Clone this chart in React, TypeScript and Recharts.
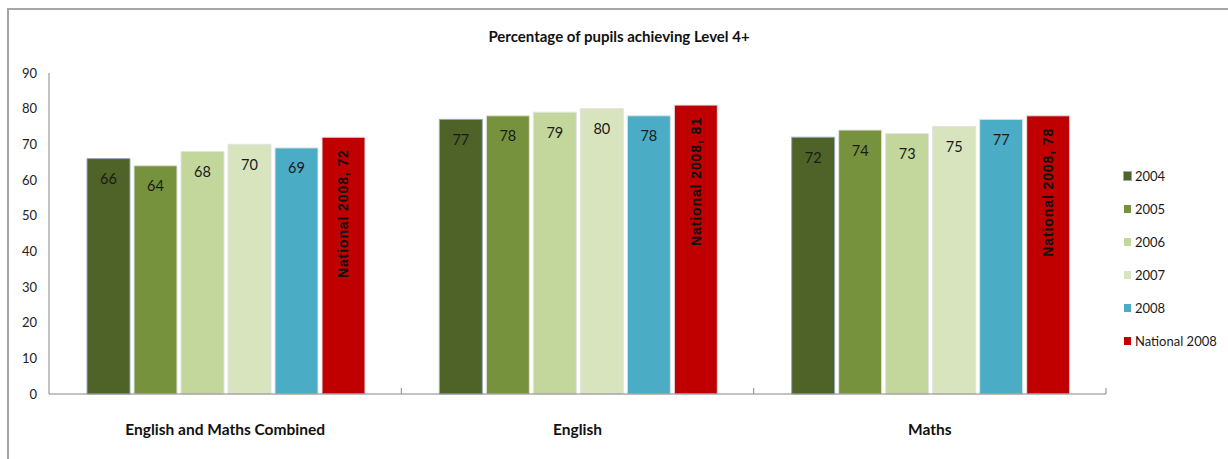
import * as Recharts from "recharts";
import { BarChart, Bar, XAxis, YAxis, Legend, LabelList, Customized } from "recharts";

const categories = ["English and Maths Combined", "English", "Maths"];
const y2004 = [66, 77, 72];
const y2005 = [64, 78, 74];
const y2006 = [68, 79, 73];
const y2007 = [70, 80, 75];
const y2008 = [69, 78, 77];
const national2008 = [72, 81, 78];

const seriesNames = ["2004", "2005", "2006", "2007", "2008", "National 2008"];
const seriesValues = [y2004, y2005, y2006, y2007, y2008, national2008];
const seriesColors = ["#4F6228", "#76923C", "#C3D69B", "#D7E4BD", "#4BACC6", "#C00000"];
const seriesStrokes = ["#9aa9bd", "#e2e2e2", "#e2e2e2", "#e2e2e2", "#e2e2e2", "#e2e2e2"];
const yTicks = [0, 10, 20, 30, 40, 50, 60, 70, 80, 90];

const data = categories.map((name, i) => {
  const row: Record<string, string | number> = { name };
  seriesNames.forEach((s, k) => {
    row[s] = seriesValues[k][i];
  });
  return row;
});

const FONT = "Lato, 'Noto Sans', sans-serif";

function ValueLabel(props: any) {
  const { x, y, width, value } = props;
  return (
    <text
      x={x + width / 2}
      y={y + 20}
      textAnchor="middle"
      dominantBaseline="central"
      fontFamily={FONT}
      fontSize={14.5}
      fill="#1a1a1a"
    >
      {value}
    </text>
  );
}

function NationalLabel(props: any) {
  const { x, y, width, value } = props;
  const cx = x + width / 2;
  const ty = y + 12;
  return (
    <text
      x={cx}
      y={ty}
      transform={`rotate(-90, ${cx}, ${ty})`}
      textAnchor="end"
      dominantBaseline="central"
      fontFamily="'Liberation Sans', Arial, sans-serif"
      fontWeight="bold"
      fontSize={14}
      letterSpacing={0.9}
      fill="#111"
    >
      {`National 2008, ${value}`}
    </text>
  );
}

function EdgeTicks() {
  const hook = (Recharts as any).usePlotArea || (Recharts as any).useOffset;
  const area = hook ? hook() : null;
  if (!area) return null;
  const left = area.x ?? area.left;
  const top = area.y ?? area.top;
  const w = area.width;
  const h = area.height;
  const bottom = top + h;
  return (
    <g>
      {categories.map((_, i) => {
        const xx = left + (w / categories.length) * (i + 1);
        return <line key={i} x1={xx} x2={xx} y1={bottom - 6} y2={bottom} stroke="#868686" />;
      })}
    </g>
  );
}

function LegendBox() {
  return (
    <div style={{ fontFamily: FONT, fontSize: 13, color: "#1a1a1a" }}>
      {seriesNames.map((s, k) => (
        <div key={s} style={{ display: "flex", alignItems: "center", height: 33 }}>
          <span
            style={{
              display: "inline-block",
              width: 7,
              height: 8,
              background: seriesColors[k],
              marginRight: 4,
              boxShadow: k === 0 ? "0 0 0 1px #9aa9bd" : "none",
            }}
          />
          <span>{s}</span>
        </div>
      ))}
    </div>
  );
}

export default function App() {
  return (
    <div style={{ position: "absolute", left: 0, top: 0, width: 1228, height: 459, background: "#fff" }}>
      <div
        style={{
          position: "absolute",
          left: 7,
          top: 8,
          right: 0,
          bottom: 0,
          borderTop: "2px solid #a6a6a6",
          borderLeft: "2px solid #a6a6a6",
        }}
      />
      <div
        style={{
          position: "absolute",
          left: 0,
          width: 1238,
          top: 27,
          textAlign: "center",
          fontFamily: FONT,
          fontWeight: "bold",
          fontSize: 15,
          color: "#111",
        }}
      >
        Percentage of pupils achieving Level 4+
      </div>
      <BarChart
        width={1228}
        height={459}
        data={data}
        margin={{ top: 73, right: 122, bottom: 0, left: 0 }}
        barCategoryGap={38}
        barGap={4}
      >
        <XAxis
          dataKey="name"
          height={65}
          tickLine={false}
          axisLine={{ stroke: "#868686" }}
          tickMargin={24}
          tick={{ fontFamily: FONT, fontWeight: "bold", fontSize: 15.5, fill: "#111" }}
        />
        <YAxis
          width={49}
          domain={[0, 90]}
          ticks={yTicks}
          tickLine={false}
          axisLine={{ stroke: "#868686" }}
          tickMargin={6}
          tick={{ fontFamily: FONT, fontSize: 13, fill: "#222" }}
        />
        <Legend
          layout="vertical"
          align="center"
          verticalAlign="middle"
          content={<LegendBox />}
          wrapperStyle={{ position: "absolute", left: 1124, top: 159, width: 100 }}
        />
        {seriesNames.map((s, k) => (
          <Bar
            key={s}
            dataKey={s}
            fill={seriesColors[k]}
            stroke={seriesStrokes[k]}
            strokeWidth={1}
            isAnimationActive={false}
          >
            <LabelList dataKey={s} content={k === 5 ? <NationalLabel /> : <ValueLabel />} />
          </Bar>
        ))}
        <Customized component={<EdgeTicks />} />
      </BarChart>
    </div>
  );
}
